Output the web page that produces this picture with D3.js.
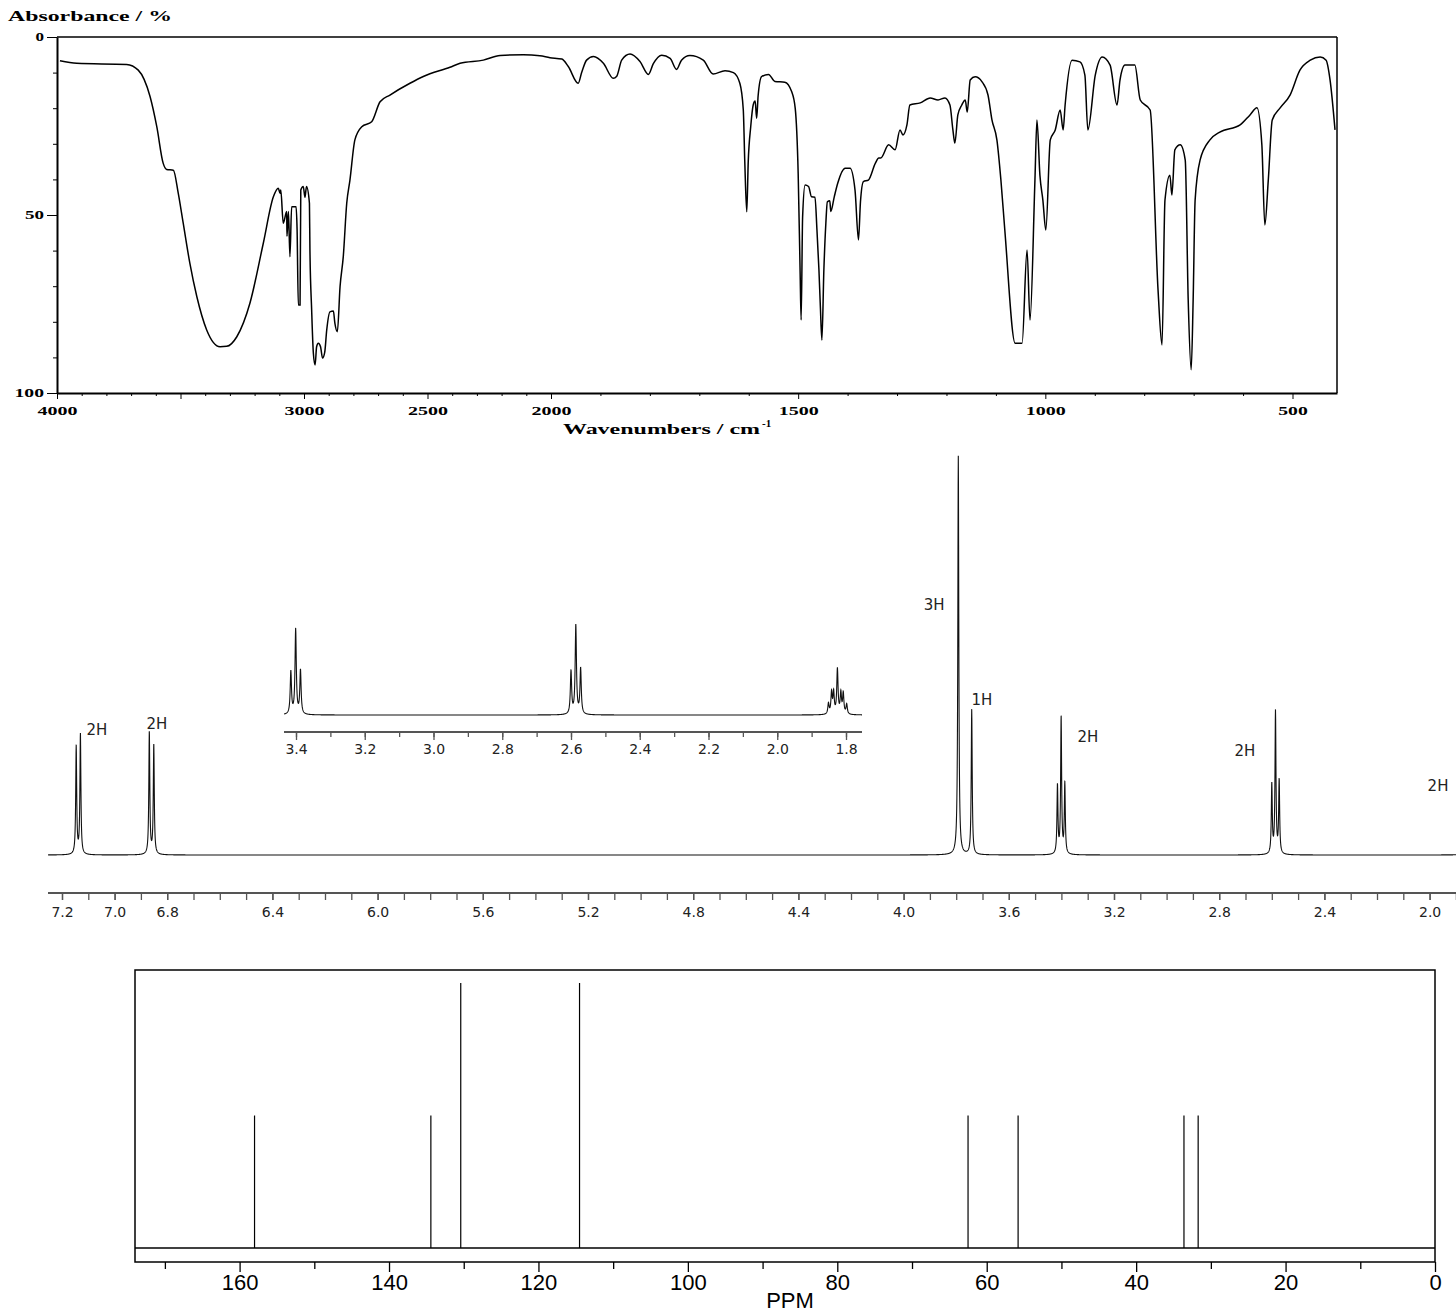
<!DOCTYPE html>
<html>
<head>
<meta charset="utf-8">
<script src="https://cdn.jsdelivr.net/npm/d3@7"></script>
<style>
    body { margin: 0; background: #fff; }
    .ir text { font-family: "Liberation Serif", "Times New Roman", serif; font-weight: bold; fill: #000; }
    .nmr text { font-family: "DejaVu Sans", Verdana, sans-serif; font-size: 14px; fill: #222; }
    .c13 text { font-family: "Liberation Sans", Arial, sans-serif; font-size: 22px; fill: #000; }
    .spec { fill: none; stroke: #111; stroke-width: 1.1; }
</style>
</head>
<body>
<svg id="chart" width="1456" height="1313"></svg>
<script>
// ---- IR spectrum (wavenumber cm-1 / absorbance %)
const irWave = [3988, 3920, 3718, 3671, 3623, 3596, 3570, 3556, 3529, 3509, 3489, 3462, 3434, 3394, 3340, 3313,
    3272, 3219, 3165, 3124, 3104, 3097, 3094, 3084, 3070, 3069, 3063, 3057, 3050, 3032, 3028, 3023, 3016, 3013,
    3003, 2996, 2990, 2978, 2976, 2969, 2962, 2955, 2949, 2942, 2933, 2925, 2916, 2908, 2895, 2881, 2875, 2865,
    2854, 2841, 2827, 2814, 2794, 2766, 2726, 2692, 2652, 2571, 2517, 2409, 2368, 2274, 2206, 2112, 2045, 2004,
    1978, 1965, 1945, 1938, 1928, 1914, 1894, 1874, 1867, 1857, 1840, 1820, 1803, 1793, 1776, 1759, 1746, 1736,
    1719, 1692, 1672, 1648, 1631, 1618, 1611, 1608, 1604, 1601, 1596, 1591, 1587, 1584, 1581, 1574, 1560, 1547,
    1527, 1513, 1506, 1500, 1496, 1494, 1491, 1486, 1479, 1473, 1466, 1462, 1458, 1455, 1452, 1448, 1444, 1441,
    1436, 1434, 1427, 1420, 1405, 1395, 1385, 1378, 1374, 1368, 1358, 1344, 1337, 1333, 1317, 1304, 1294, 1288,
    1280, 1274, 1253, 1233, 1217, 1203, 1193, 1187, 1183, 1177, 1169, 1162, 1158, 1152, 1142, 1128, 1116, 1108,
    1098, 1090, 1082, 1061, 1047, 1037, 1031, 1021, 1017, 1011, 1005, 999, 990, 980, 970, 964, 960, 946, 930,
    920, 914, 899, 885, 869, 855, 849, 839, 819, 808, 788, 772, 764, 758, 748, 744, 738, 727, 717, 711, 705,
    701, 697, 687, 667, 647, 606, 586, 572, 562, 556, 549, 541, 525, 505, 485, 464, 444, 432, 424, 414];
const irAbs = [6.7, 7.4, 7.7, 9.3, 16.8, 25.2, 35.5, 37.2, 37.4, 43.9, 52.3, 63.6, 72.9, 82.3, 87.0, 86.9,
    84.2, 74.8, 58.0, 44.9, 42.5, 43.9, 43.0, 52.3, 49.0, 56.0, 49.0, 61.7, 47.7, 47.7, 54.0, 75.3, 75.3, 43.0,
    42.0, 45.0, 42.0, 46.7, 59.8, 76.7, 88.9, 92.1, 87.0, 86.0, 87.0, 90.2, 88.5, 82.3, 77.2, 77.0, 80.4, 82.8,
    70.1, 61.7, 46.7, 40.2, 28.9, 25.2, 23.8, 18.2, 16.3, 13.0, 11.1, 8.5, 7.4, 6.5, 5.2, 5.0, 5.3, 5.8,
    6.2, 8.3, 13.0, 10.0, 6.5, 5.5, 7.4, 11.6, 11.0, 6.5, 4.8, 6.9, 10.5, 7.5, 5.1, 6.0, 9.1, 6.5,
    5.2, 6.5, 10.4, 9.5, 10.0, 13.0, 20.5, 35.0, 49.1, 35.0, 25.2, 19.1, 18.0, 22.8, 16.5, 11.1, 10.5, 12.5,
    12.7, 15.4, 20.0, 38.3, 66.4, 79.5, 50.5, 41.6, 42.0, 44.9, 45.0, 54.2, 65.4, 76.1, 85.1, 65.4, 52.3, 46.3,
    46.0, 49.0, 44.9, 41.1, 36.9, 36.9, 43.0, 57.0, 46.3, 40.6, 40.2, 35.5, 34.0, 34.0, 30.3, 31.7, 26.1, 27.5,
    24.7, 19.1, 18.5, 17.1, 17.7, 17.1, 19.1, 26.1, 29.8, 21.9, 19.1, 17.7, 21.1, 12.1, 11.2, 12.6, 16.3, 23.3,
    28.9, 40.0, 54.2, 86.0, 86.0, 59.8, 79.5, 40.0, 23.3, 38.8, 45.8, 54.2, 28.9, 26.1, 20.5, 26.1, 19.1, 6.5, 7.0,
    10.7, 26.1, 10.7, 5.6, 7.9, 19.1, 12.1, 7.9, 7.9, 17.7, 20.5, 71.1, 86.5, 45.8, 38.8, 44.4, 31.7, 30.3, 34.6, 73.9, 93.5,
    73.9, 45.8, 34.6, 28.9, 26.7, 24.7, 21.9, 19.9, 30.3, 52.8, 40.2, 23.3, 19.9, 16.3, 9.3, 6.5, 5.6, 6.5, 12.1, 26.1];
const irXTicks = [4000, 3000, 2500, 2000, 1500, 1000, 500];
const irYTicks = [0, 50, 100];

// ---- 1H NMR peaks (ppm / height)
const hPpm = [7.146, 7.130, 6.868, 6.851, 3.792, 3.741, 3.415, 3.401, 3.387, 2.600, 2.586, 2.572,
    1.851, 1.842, 1.836, 1.825, 1.815, 1.808, 1.798];
const hHeight = [108, 120, 122, 109, 399, 145, 68, 136, 70, 69, 142, 73,
    17, 34, 34, 72, 33, 33, 16];
const hLabels = ["2H", "2H", "3H", "1H", "2H", "2H", "2H"];
const hLabelPpm = [7.067, 6.839, 3.884, 3.702, 3.299, 2.702, 1.968];
const hLabelLevel = [125, 131, 250, 155, 118, 104, 69];
const hTicks = [7.2, 7.0, 6.8, 6.4, 6.0, 5.6, 5.2, 4.8, 4.4, 4.0, 3.6, 3.2, 2.8, 2.4, 2.0];
const insetTicks = [3.4, 3.2, 3.0, 2.8, 2.6, 2.4, 2.2, 2.0, 1.8];

// ---- 13C NMR lines
const cPpm = [158.0, 134.4, 130.4, 114.5, 62.5, 55.8, 33.6, 31.7];
const cHeight = [1, 1, 2, 2, 1, 1, 1, 1];
const cTicks = [160, 140, 120, 100, 80, 60, 40, 20, 0];

let svg = d3.select("#chart");

// ================= IR =================
let ir = svg.append("g").attr("class", "ir");
let irX = d3.scaleLinear().domain([4000, 2000, 410]).range([57, 551, 1337]);
let irY = d3.scaleLinear().domain([0, 100]).range([37, 393]);

// stretched bitmap-ish serif labels
function stretch(sel, perChar) {
    sel.each(function () {
        let t = d3.select(this).text();
        d3.select(this).attr("textLength", Math.max(8, t.length * perChar - 2)).attr("lengthAdjust", "spacingAndGlyphs");
    });
}

// frame
ir.append("line").attr("x1", 57).attr("x2", 1337).attr("y1", irY(0)).attr("y2", irY(0)).attr("stroke", "#000").attr("stroke-width", 1.5);
ir.append("line").attr("x1", 1337).attr("x2", 1337).attr("y1", irY(0)).attr("y2", irY(100)).attr("stroke", "#000").attr("stroke-width", 1.5);

// minor ticks
ir.append("g").attr("transform", "translate(57,0)")
    .call(d3.axisLeft(irY).tickValues(d3.range(10, 100, 10)).tickSize(4).tickFormat(""))
    .call(g => g.select(".domain").remove());
ir.append("g").attr("transform", "translate(0,393)")
    .call(d3.axisBottom(irX).tickValues(d3.range(500, 4000, 100).filter(v => v % 500 !== 0)).tickSize(3).tickFormat(""))
    .call(g => g.select(".domain").remove());
ir.append("g").attr("transform", "translate(0,393)")
    .call(d3.axisBottom(irX).tickValues([3500]).tickSize(6).tickFormat(""))
    .call(g => g.select(".domain").remove());

// labelled axes
let irLeft = ir.append("g").attr("transform", "translate(57,0)")
    .call(d3.axisLeft(irY).tickValues(irYTicks).tickSize(10).tickPadding(3).tickSizeOuter(0).tickFormat(d3.format("d")));
let irBottom = ir.append("g").attr("transform", "translate(0,393)")
    .call(d3.axisBottom(irX).tickValues(irXTicks).tickSize(6).tickPadding(7).tickSizeOuter(0).tickFormat(d3.format("d")));
[irLeft, irBottom].forEach(function (g) {
    g.select(".domain").attr("stroke-width", 2);
    g.selectAll("text").style("font-size", "12px").attr("font-family", null).attr("font-size", null);
    stretch(g.selectAll("text"), 10.5);
});

ir.append("path")
    .datum(irWave.map((w, i) => ({w: w, a: irAbs[i]})))
    .attr("fill", "none")
    .attr("stroke", "#000")
    .attr("stroke-width", 1.5)
    .attr("d", d3.line().curve(d3.curveMonotoneX).x(d => irX(d.w)).y(d => irY(d.a)));

ir.append("text").attr("x", 8).attr("y", 21).style("font-size", "15px")
    .attr("textLength", 164).attr("lengthAdjust", "spacingAndGlyphs").text("Absorbance / %");
let wl = ir.append("text").attr("x", 563).attr("y", 434).style("font-size", "15px");
wl.append("tspan").attr("textLength", 197).attr("lengthAdjust", "spacingAndGlyphs").text("Wavenumbers / cm");
wl.append("tspan").attr("dy", -7).attr("dx", 2).style("font-size", "11px").text("-1");

// ================= 1H NMR =================
let nmr = svg.append("g").attr("class", "nmr");
let hw = 0.0022;   // half width of the lines, ppm

function intensity(p) {
    let s = 0;
    for (let i = 0; i < hPpm.length; i++) {
        let u = (p - hPpm[i]) / hw;
        s += hHeight[i] / (1 + u * u);
    }
    return s;
}
function sampled(lo, hi) {
    let pts = d3.range(lo, hi, 0.0006).concat(hPpm.filter(p => p > lo && p < hi));
    pts.sort((a, b) => a - b);
    return pts.map(p => ({p: p, v: intensity(p)}));
}

// main trace
let hX = d3.scaleLinear().domain([7.2, 2.0]).range([62, 1429.6]);
let hY = d3.scaleLinear().domain([0, 401]).range([855, 454]);
nmr.append("path").attr("class", "spec")
    .datum(sampled(hX.invert(1456), hX.invert(48)))
    .attr("d", d3.line().x(d => hX(d.p)).y(d => hY(d.v)));

nmr.append("line").attr("x1", 48).attr("x2", 1456).attr("y1", 893).attr("y2", 893)
    .attr("stroke", "#555").attr("stroke-width", 2);
nmr.append("g").attr("transform", "translate(0,893)")
    .call(d3.axisBottom(hX).tickValues(d3.range(19, 73).map(v => v / 10)).tickSize(7).tickFormat(""))
    .call(g => g.select(".domain").remove());
nmr.append("g").attr("transform", "translate(0,893)")
    .call(d3.axisBottom(hX).tickValues(hTicks).tickSize(7).tickPadding(7).tickFormat(d3.format(".1f")))
    .call(g => g.select(".domain").remove())
    .call(g => g.selectAll("text").attr("font-family", null).attr("font-size", null).attr("fill", null));
nmr.selectAll(".tick line").attr("stroke", "#555").attr("stroke-width", 1.3);

nmr.selectAll("text.hl")
    .data(hLabels)
    .enter().append("text")
    .attr("class", "hl")
    .attr("x", (d, i) => hX(hLabelPpm[i]))
    .attr("y", (d, i) => hY(hLabelLevel[i]))
    .attr("text-anchor", "middle")
    .attr("dominant-baseline", "central")
    .style("font-size", "15px")
    .text(d => d);

// inset trace
let inset = nmr.append("g");
let inX = d3.scaleLinear().domain([3.4, 1.8]).range([296, 846]);
let inY = d3.scaleLinear().domain([0, 401]).range([715, 715 - 401 * 0.625]);
inset.append("path").attr("class", "spec")
    .datum(sampled(inX.invert(862), inX.invert(284)))
    .attr("d", d3.line().x(d => inX(d.p)).y(d => inY(d.v)));
inset.append("line").attr("x1", 284).attr("x2", 862).attr("y1", 732).attr("y2", 732)
    .attr("stroke", "#555").attr("stroke-width", 2);
inset.append("g").attr("transform", "translate(0,732)")
    .call(d3.axisBottom(inX).tickValues(d3.range(18, 35).map(v => v / 10)).tickSize(5).tickFormat(""))
    .call(g => g.select(".domain").remove());
inset.append("g").attr("transform", "translate(0,732)")
    .call(d3.axisBottom(inX).tickValues(insetTicks).tickSize(8).tickPadding(4).tickFormat(d3.format(".1f")))
    .call(g => g.select(".domain").remove())
    .call(g => g.selectAll("text").attr("font-family", null).attr("font-size", null).attr("fill", null));
inset.selectAll(".tick line").attr("stroke", "#555").attr("stroke-width", 1.3);

// ================= 13C NMR =================
let c13 = svg.append("g").attr("class", "c13");
let cX = d3.scaleLinear().domain([174, 0]).range([135, 1435]);
let cY = d3.scaleLinear().domain([0, 2]).range([1248, 983]);

c13.append("rect").attr("x", 135).attr("y", 970).attr("width", 1300).attr("height", 292)
    .attr("fill", "none").attr("stroke", "#000").attr("stroke-width", 1.5);
c13.append("line").attr("x1", 135).attr("x2", 1435).attr("y1", 1248).attr("y2", 1248)
    .attr("stroke", "#000").attr("stroke-width", 1.5);

c13.selectAll("line.peak")
    .data(cPpm)
    .enter().append("line")
    .attr("class", "peak")
    .attr("x1", d => cX(d)).attr("x2", d => cX(d))
    .attr("y1", cY(0))
    .attr("y2", (d, i) => cY(cHeight[i]))
    .attr("stroke", "#000").attr("stroke-width", 1.2);

c13.append("g").attr("transform", "translate(0,1262)")
    .call(d3.axisBottom(cX).tickValues(d3.range(10, 180, 20)).tickSize(7).tickFormat(""))
    .call(g => g.select(".domain").remove());
c13.append("g").attr("transform", "translate(0,1262)")
    .call(d3.axisBottom(cX).tickValues(cTicks).tickSize(10).tickPadding(2))
    .call(g => g.select(".domain").remove())
    .call(g => g.selectAll("text").attr("font-family", null).attr("font-size", null));
c13.selectAll(".tick line").attr("stroke", "#000").attr("stroke-width", 1.3);

c13.append("text").attr("x", 790).attr("y", 1308).attr("text-anchor", "middle").text("PPM");
</script>
</body>
</html>
